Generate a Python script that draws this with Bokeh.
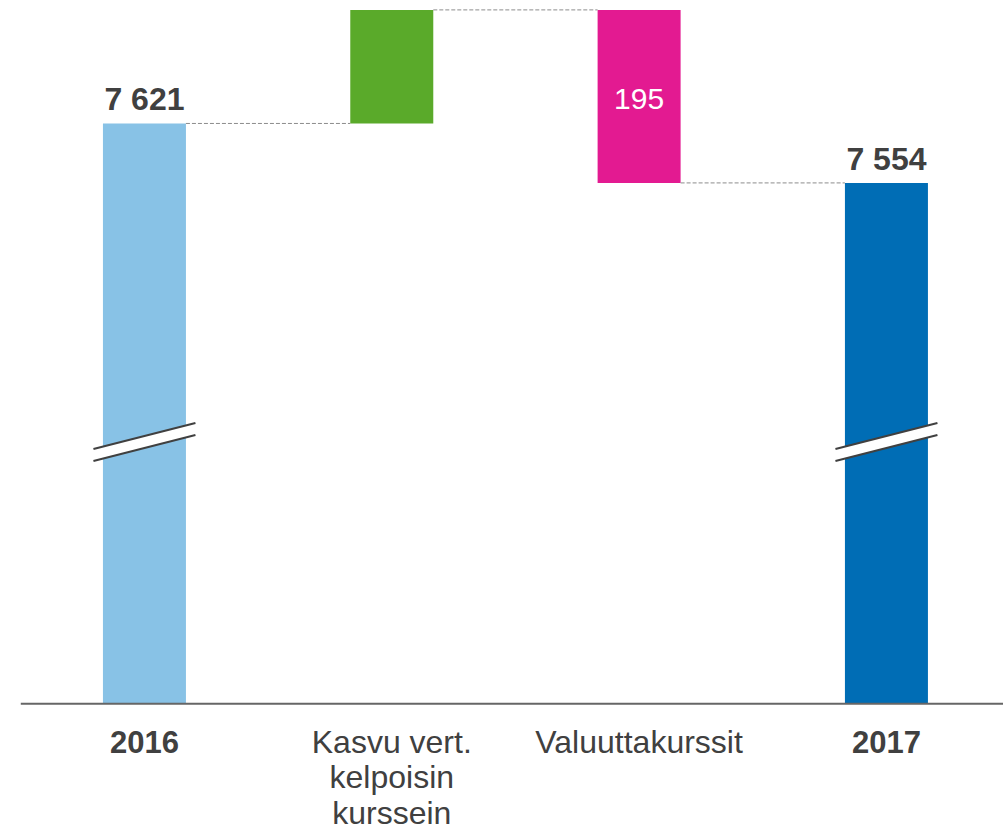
from bokeh.plotting import figure
from bokeh.models import ColumnDataSource, Range1d
from bokeh.core.properties import value
from bokeh.embed import file_html
from bokeh.resources import INLINE

# ---- data ----
categories = [["2016"], ["Kasvu vert.", "kelpoisin", "kurssein"], ["Valuuttakurssit"], ["2017"]]
start_value = 7621
changes = [128, -195]
end_value = 7554
bar_labels = ["7 621", "", "195", "7 554"]
bar_colors = ["#88C2E6", "#5AAA2A", "#E31A91", "#006DB5"]
bold_category = [True, False, False, True]

# ---- layout helpers ----
W, H = 1003, 832
PX_PER_X = 247.33          # px per category step
PX_PER_Y = 0.8872          # px per value unit
Y_TOP = 7759.6
Y_BOTTOM = Y_TOP - H / PX_PER_Y
X_START = -0.582
X_END = X_START + W / PX_PER_X
BASE = 6967.0              # broken-axis baseline level
BREAK_LEVEL = 7262.0       # where the axis-break marks sit
BAR_W = 83 / PX_PER_X

def dy(px):
    return px / PX_PER_Y

def dx(px):
    return px / PX_PER_X

# waterfall geometry
xs = list(range(len(categories)))
bottoms, tops = [BASE], [start_value]
running = start_value
for c in changes:
    nxt = running + c
    bottoms.append(min(running, nxt)); tops.append(max(running, nxt))
    running = nxt
bottoms.append(BASE); tops.append(end_value)

p = figure(width=W, height=H, x_range=Range1d(X_START, X_END),
           y_range=Range1d(Y_BOTTOM, Y_TOP), output_backend="svg",
           toolbar_location=None, min_border=0)
p.axis.visible = False
p.grid.visible = False
p.outline_line_color = None
p.background_fill_color = "white"
p.border_fill_color = "white"

src = ColumnDataSource(dict(x=xs, bottom=bottoms, top=tops, color=bar_colors))
p.vbar(x="x", bottom="bottom", top="top", width=BAR_W, fill_color="color",
       line_color=None, source=src)

# connectors
levels = [start_value, start_value + changes[0], end_value]
cx0 = [xs[i] + BAR_W / 2 for i in range(3)]
cx1 = [xs[i + 1] - BAR_W / 2 for i in range(3)]
p.segment(x0=cx0, x1=cx1, y0=levels, y1=levels, line_color="#8C8C8C",
          line_width=1, line_dash="4 2")

# baseline
p.segment(x0=[-0.5], x1=[X_END], y0=[BASE], y1=[BASE], line_color="#666666", line_width=2)

# break marks on the total bars
hx = dx(51)
bxs, bys, lxs, lys = [], [], [], []
for i in (0, 3):
    c = xs[i]
    top_l, top_r = BREAK_LEVEL + dy(6 - 13), BREAK_LEVEL + dy(6 + 13)
    bot_l, bot_r = BREAK_LEVEL + dy(-6 - 13), BREAK_LEVEL + dy(-6 + 13)
    bxs.append([c - hx, c + hx, c + hx, c - hx])
    bys.append([top_l, top_r, bot_r, bot_l])
    lxs += [[c - hx, c + hx], [c - hx, c + hx]]
    lys += [[top_l, top_r], [bot_l, bot_r]]
p.patches(xs=bxs, ys=bys, fill_color="white", line_color=None)
p.multi_line(xs=lxs, ys=lys, line_color="#404040", line_width=2)

FONT = value("Liberation Sans")
TEXT = "#404040"

# value labels above totals
for i in (0, 3):
    p.text(x=[xs[i]], y=[tops[i] + dy(24.3)], text=[bar_labels[i]], text_font=FONT,
           text_font_size="32px", text_font_style="bold", text_color=TEXT,
           text_align="center", text_baseline="middle")
# value label in pink bar
p.text(x=[xs[2]], y=[(bottoms[2] + tops[2]) / 2 - dy(2.5)], text=[bar_labels[2]],
       text_font=FONT, text_font_size="30px", text_color="white",
       text_align="center", text_baseline="middle")

# category labels (one glyph per line)
for i, lines in enumerate(categories):
    for k, line in enumerate(lines):
        p.text(x=[xs[i]], y=[BASE - dy(38 + 35.5 * k)], text=[line], text_font=FONT,
               text_font_size="31px" if bold_category[i] else "32px",
               text_font_style="bold" if bold_category[i] else "normal",
               text_color=TEXT, text_align="center", text_baseline="middle")

open("out.html", "w").write(file_html(p, INLINE))
